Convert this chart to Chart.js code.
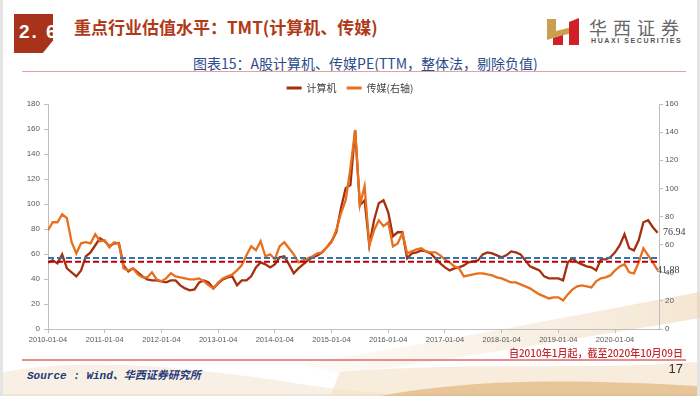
<!DOCTYPE html>
<html>
<head>
<meta charset="utf-8">
<script src="https://cdn.jsdelivr.net/npm/chart.js@4.4.1/dist/chart.umd.min.js"></script>
<style>
  body { margin: 0; background: #e4e4e4; width: 700px; height: 396px; overflow: hidden; }
  #slide { position: absolute; left: 3px; top: 0; width: 694px; height: 394px; background: #fff; overflow: hidden; }
  .abs { position: absolute; white-space: pre; }
  #badge { left: 14px; top: 14px; width: 39px; height: 39px; background: #a8321a;
    clip-path: polygon(0 0, 100% 0, 100% 68%, 74% 100%, 0 100%); overflow: hidden; }
  #badge span { position: absolute; left: 5px; top: 7px; color: #fff; font: bold 19px "Liberation Sans", sans-serif; letter-spacing: 2px; }
  #title { left: 74px; top: 15px; font: bold 17px "Noto Sans CJK SC", sans-serif; color: #b03a17; line-height: 24px; }
  #brand { left: 589px; top: 16px; font: 400 18px "Noto Sans CJK SC", sans-serif; color: #666; letter-spacing: 6px; line-height: 22px; }
  #brandEn { left: 591px; top: 37px; font: bold 7px "Liberation Sans", sans-serif; color: #555; letter-spacing: 1.6px; }
  #subtitle { left: 193px; top: 55px; font: 400 14px "Noto Sans CJK SC", sans-serif; color: #2b4c8c; line-height: 17px; }
  #rule1 { left: 22px; top: 71px; width: 664px; height: 1px; background: #e6a0a0; }
  #rule2 { left: 22px; top: 359px; width: 664px; height: 2px; background: #e88c8c; }
  #note { right: 17px; top: 345px; font: 500 10px "Noto Sans CJK SC", sans-serif; color: #c0282d; }
  #source { left: 27px; top: 366px; font: italic bold 11px "Liberation Mono", "Noto Sans CJK SC", monospace; color: #1f3a7a; }
  #page { right: 17px; top: 361px; font: 13px "Liberation Sans", sans-serif; color: #333; }
  #peChart { position: absolute; left: 0; top: 73px; }
</style>
</head>
<body>
<div id="slide"></div>
<svg class="abs" style="left:0;top:0" width="700" height="396">
  <defs>
    <linearGradient id="band" x1="0" y1="0" x2="1" y2="0">
      <stop offset="0" stop-color="#f2dec4" stop-opacity="0.15"/>
      <stop offset="1" stop-color="#ecd2ae" stop-opacity="0.55"/>
    </linearGradient>
  </defs>
  <path d="M300 364 C420 346 560 318 700 292 L700 318 C560 342 430 362 340 374 Z" fill="url(#band)"/>
  <path d="M3 372 C90 356 200 368 300 384 C360 393 420 396 440 396 L3 396 Z" fill="#f5e6d3" opacity="0.6"/>
  <path d="M340 372 C460 362 600 370 697 362 L697 396 L330 396 Z" fill="#f3dfc4" opacity="0.6"/>
  <path d="M380 396 C470 380 560 378 697 386 L697 396 Z" fill="#dda862" opacity="0.55"/>
</svg>
<div id="badge" class="abs"><span>2. 6</span></div>
<div id="title" class="abs">重点行业估值水平：TMT(计算机、传媒)</div>
<svg class="abs" style="left:545px;top:16px" width="36" height="32">
  <polygon points="2,3 11,3 11,15 27,11 27,17 11,21 2,24" fill="#c9a04e"/>
  <polygon points="8,22 18,19 18,29 8,29" fill="#d0202a"/>
  <polygon points="24,6 34,2 34,29 24,29" fill="#d0202a"/>
</svg>
<div id="brand" class="abs">华西证券</div>
<div id="brandEn" class="abs">HUAXI SECURITIES</div>
<div id="subtitle" class="abs">图表15：A股计算机、传媒PE(TTM，整体法，剔除负值)</div>
<div id="rule1" class="abs"></div>
<canvas id="peChart" width="700" height="280"></canvas>
<div id="rule2" class="abs"></div>
<div id="note" class="abs">自2010年1月起，截至2020年10月09日</div>
<div id="source" class="abs">Source : Wind、华西证券研究所</div>
<div id="page" class="abs">17</div>

<script>
// x axis: months since 2010-01 (monthly readings), last point 2020-10-09
const yearLabels = ['2010-01-04', '2011-01-04', '2012-01-04', '2013-01-04', '2014-01-04', '2015-01-04',
  '2016-01-04', '2017-01-04', '2018-01-04', '2019-01-04', '2020-01-04'];

// 计算机 PE (left axis)
const computerPE = [
  53.3, 54.9, 52.5, 59.7, 48.5, 45.3, 42.1, 46.9, 58.1, 61.3,
  67.0, 72.6, 70.2, 66.2, 68.6, 68.6, 50.9, 46.1, 48.5, 45.3,
  42.1, 39.7, 38.9, 38.9, 38.1, 37.3, 38.9, 38.9, 34.9, 32.5,
  30.9, 31.7, 37.3, 38.9, 37.3, 32.5, 36.5, 39.7, 41.3, 42.1,
  34.9, 38.9, 38.9, 42.1, 49.3, 53.3, 51.7, 49.3, 51.7, 57.3,
  58.1, 51.7, 44.5, 48.5, 51.7, 54.9, 57.3, 58.9, 61.3, 65.4,
  70.2, 77.4, 96.6, 112.7, 115.1, 159.2, 99.0, 103.0, 67.0, 87.0,
  100.6, 103.0, 93.4, 74.2, 77.4, 77.4, 56.5, 60.5, 61.3, 62.9,
  62.1, 60.5, 56.5, 52.5, 49.3, 46.9, 48.5, 49.3, 50.9, 53.3,
  54.1, 54.9, 59.7, 61.3, 60.5, 58.9, 57.3, 58.9, 62.1, 61.3,
  59.7, 54.9, 50.1, 48.5, 46.9, 42.1, 40.5, 40.5, 40.5, 38.9,
  53.3, 56.5, 53.3, 51.7, 50.1, 49.3, 46.9, 55.7, 55.7, 57.3,
  61.3, 67.0, 75.8, 64.6, 62.9, 71.0, 85.4, 87.0, 81.4, 76.94
];

// 传媒 PE (right axis)
const mediaPE = [
  70.2, 75.9, 75.9, 81.6, 78.8, 61.7, 53.8, 60.9, 61.7, 60.9,
  67.4, 62.4, 63.1, 58.1, 61.7, 60.9, 43.1, 41.7, 43.1, 38.8,
  36.7, 36.7, 40.3, 35.3, 33.9, 36.0, 39.6, 37.4, 36.7, 36.0,
  35.3, 35.3, 36.0, 33.9, 31.0, 28.9, 33.1, 36.0, 37.4, 38.8,
  41.7, 45.3, 52.4, 58.8, 56.0, 62.4, 51.7, 53.1, 49.5, 58.8,
  61.7, 57.4, 53.1, 47.4, 48.8, 50.3, 51.7, 53.8, 54.5, 58.1,
  61.7, 70.2, 82.3, 91.6, 114.4, 141.5, 88.0, 101.6, 59.5, 70.2,
  77.3, 73.1, 75.9, 58.8, 60.9, 68.1, 53.8, 55.2, 56.7, 57.4,
  55.2, 54.5, 54.5, 52.4, 49.5, 47.4, 44.5, 43.1, 37.4, 38.1,
  38.8, 39.6, 39.6, 38.8, 38.1, 36.7, 36.0, 34.6, 33.1, 33.1,
  31.7, 30.3, 28.9, 26.7, 24.6, 23.2, 21.7, 22.5, 22.5, 20.3,
  24.6, 28.2, 30.3, 31.0, 30.3, 29.6, 33.9, 36.0, 36.7, 38.1,
  41.7, 44.5, 46.0, 40.3, 39.6, 47.4, 57.4, 52.4, 47.4, 41.88
];

// period averages (dashed lines)
const computerAvg = 56.8;
const mediaAvg = 47.9;
const lastMonth = 129.3;

const toPoints = arr => arr.map((v, i) => ({ x: i, y: v }));
const tickFont = { family: 'Liberation Sans', size: 8 };

const endLabels = {
  id: 'endLabels',
  afterDatasetsDraw(chart) {
    const ctx = chart.ctx;
    const right = chart.chartArea.right;
    const c = computerPE[computerPE.length - 1];
    const m = mediaPE[mediaPE.length - 1];
    ctx.save();
    ctx.font = '10px "Liberation Serif"';
    ctx.fillStyle = '#404040';
    ctx.textBaseline = 'middle';
    ctx.fillText(c.toFixed(2), right + 4, chart.scales.y.getPixelForValue(c));
    ctx.fillText(m.toFixed(2), right - 2, chart.scales.y1.getPixelForValue(m));
    ctx.restore();
  }
};

const legendHeight = {
  id: 'legendHeight',
  beforeInit(chart) {
    const fit = chart.legend.fit;
    chart.legend.fit = function () {
      fit.bind(chart.legend)();
      this.height = 31;
    };
  }
};

new Chart(document.getElementById('peChart'), {
  type: 'line',
  data: {
    datasets: [
      { label: '计算机', data: toPoints(computerPE), yAxisID: 'y', borderColor: '#a3300e', backgroundColor: '#a3300e',
        borderWidth: 2.3, pointRadius: 0, tension: 0, order: 2 },
      { label: '传媒(右轴)', data: toPoints(mediaPE), yAxisID: 'y1', borderColor: '#e8701c', backgroundColor: '#e8701c',
        borderWidth: 2.3, pointRadius: 0, tension: 0, order: 1 },
      { label: 'avgComputer', data: [{ x: 0, y: computerAvg }, { x: lastMonth, y: computerAvg }], yAxisID: 'y',
        borderColor: '#2e75b6', borderDash: [6, 3], borderWidth: 2, pointRadius: 0, order: 0 },
      { label: 'avgMedia', data: [{ x: 0, y: mediaAvg }, { x: lastMonth, y: mediaAvg }], yAxisID: 'y1',
        borderColor: '#c00000', borderDash: [6, 3], borderWidth: 2, pointRadius: 0, order: 0 }
    ]
  },
  options: {
    responsive: false,
    animation: false,
    layout: { padding: 0 },
    plugins: {
      tooltip: { enabled: false },
      legend: {
        position: 'top',
        labels: {
          font: { family: 'Noto Sans CJK SC', size: 10 },
          color: '#404040',
          boxWidth: 15,
          boxHeight: 3,
          padding: 10,
          sort: (a, b) => a.datasetIndex - b.datasetIndex,
          generateLabels: chart => Chart.defaults.plugins.legend.labels.generateLabels(chart)
            .filter(l => l.datasetIndex < 2)
            .map(l => Object.assign(l, { lineWidth: 0 }))
        }
      }
    },
    scales: {
      x: {
        type: 'linear',
        min: 0,
        max: lastMonth,
        afterBuildTicks: axis => { axis.ticks = yearLabels.map((_, i) => ({ value: i * 12 })); },
        afterFit: axis => { axis.height = 24; },
        ticks: { callback: v => yearLabels[v / 12], autoSkip: false, maxRotation: 0, font: { family: 'Liberation Sans', size: 7.5 }, color: '#595959', padding: 2 },
        grid: { drawOnChartArea: false, tickLength: 4, color: '#bfbfbf' },
        border: { color: '#bfbfbf' }
      },
      y: {
        position: 'left',
        min: 0,
        max: 180,
        afterFit: axis => { axis.width = 48; },
        ticks: { stepSize: 20, font: tickFont, color: '#595959', padding: 4 },
        grid: { drawOnChartArea: false, tickLength: 4, color: '#bfbfbf' },
        border: { color: '#bfbfbf' }
      },
      y1: {
        position: 'right',
        min: 0,
        max: 160,
        afterFit: axis => { axis.width = 41; },
        ticks: { stepSize: 20, font: tickFont, color: '#595959', padding: 2 },
        grid: { drawOnChartArea: false, tickLength: 4, color: '#bfbfbf' },
        border: { color: '#bfbfbf' }
      }
    }
  },
  plugins: [endLabels, legendHeight]
});
</script>
</body>
</html>
